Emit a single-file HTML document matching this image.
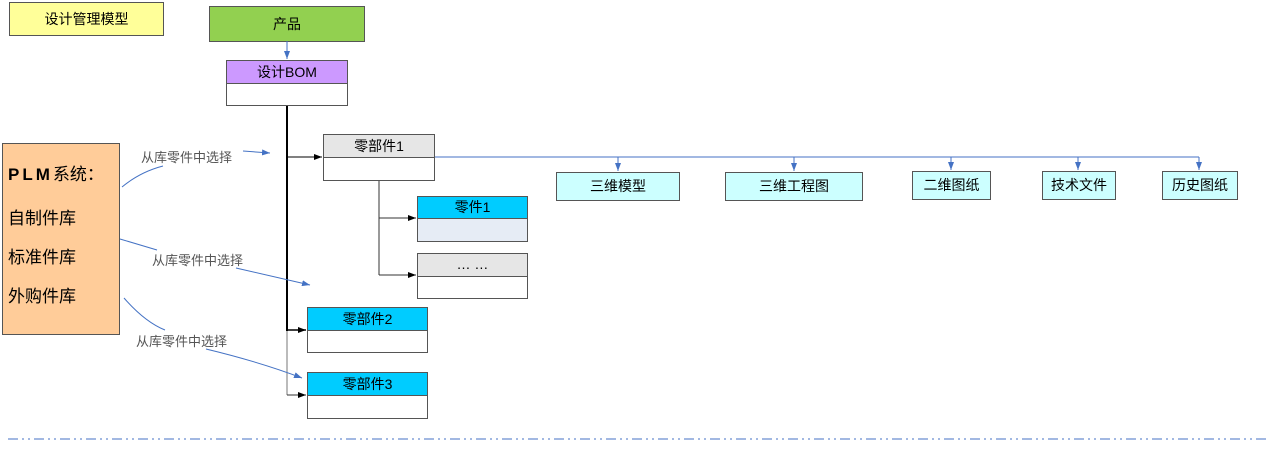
<!DOCTYPE html>
<html><head><meta charset="utf-8"><style>
body{margin:0;width:1269px;height:452px;background:#fff;position:relative;overflow:hidden;font-family:"Liberation Sans","Noto Sans CJK SC",sans-serif;}
.b{position:absolute;box-sizing:border-box;border:1px solid #555;text-align:center;font-size:14px;color:#000;}
.t{position:absolute;font-size:13px;color:#555;white-space:nowrap;}
</style></head><body>
<div class="b" style="left:9px;top:2px;width:155px;height:34px;background:#ffff99;line-height:32px;">设计管理模型</div>
<div class="b" style="left:209px;top:6px;width:156px;height:36px;background:#92d050;line-height:34px;">产品</div>
<div class="b" style="left:226px;top:60px;width:122px;height:24px;background:#cc99ff;line-height:22px;">设计BOM</div>
<div class="b" style="left:226px;top:83px;width:122px;height:23px;background:#fff;"></div>
<div class="b" style="left:323px;top:134px;width:112px;height:24px;background:#e6e6e6;line-height:22px;">零部件1</div>
<div class="b" style="left:323px;top:157px;width:112px;height:24px;background:#fff;"></div>
<div class="b" style="left:417px;top:196px;width:111px;height:23px;background:#00ccff;line-height:21px;">零件1</div>
<div class="b" style="left:417px;top:218px;width:111px;height:24px;background:#e6ecf5;"></div>
<div class="b" style="left:417px;top:253px;width:111px;height:24px;background:#e6e6e6;line-height:20px;">… …</div>
<div class="b" style="left:417px;top:276px;width:111px;height:23px;background:#fff;"></div>
<div class="b" style="left:307px;top:307px;width:121px;height:24px;background:#00ccff;line-height:22px;">零部件2</div>
<div class="b" style="left:307px;top:330px;width:121px;height:23px;background:#fff;"></div>
<div class="b" style="left:307px;top:372px;width:121px;height:24px;background:#00ccff;line-height:22px;">零部件3</div>
<div class="b" style="left:307px;top:395px;width:121px;height:24px;background:#fff;"></div>
<div class="b" style="left:556px;top:172px;width:124px;height:29px;background:#ccffff;line-height:27px;">三维模型</div>
<div class="b" style="left:725px;top:172px;width:138px;height:29px;background:#ccffff;line-height:27px;">三维工程图</div>
<div class="b" style="left:912px;top:171px;width:79px;height:29px;background:#ccffff;line-height:27px;">二维图纸</div>
<div class="b" style="left:1042px;top:171px;width:74px;height:29px;background:#ccffff;line-height:27px;">技术文件</div>
<div class="b" style="left:1162px;top:171px;width:76px;height:29px;background:#ccffff;line-height:27px;">历史图纸</div>
<div class="b" style="left:2px;top:143px;width:118px;height:192px;background:#ffcc99;text-align:left;font-size:17px;">
<div style="position:absolute;left:5px;top:16px;"><b style="letter-spacing:3px;font-size:17px;">PLM</b>系统：</div>
<div style="position:absolute;left:5px;top:60px;">自制件库</div>
<div style="position:absolute;left:5px;top:99px;">标准件库</div>
<div style="position:absolute;left:5px;top:138px;">外购件库</div>
</div>
<div class="t" style="left:141px;top:147px;">从库零件中选择</div>
<div class="t" style="left:152px;top:250px;">从库零件中选择</div>
<div class="t" style="left:136px;top:331px;">从库零件中选择</div>
<svg width="1269" height="452" style="position:absolute;left:0;top:0;" >
<defs>
<marker id="bk" markerUnits="userSpaceOnUse" markerWidth="8" markerHeight="6" refX="8" refY="3" orient="auto"><path d="M0,0L8,3L0,6z" fill="#000"/></marker>
<marker id="bl" markerUnits="userSpaceOnUse" markerWidth="8" markerHeight="6" refX="8" refY="3" orient="auto"><path d="M0,0L8,3L0,6z" fill="#4472c4"/></marker>
</defs>
<g fill="none">
<line x1="287" y1="41" x2="287" y2="59" stroke="#4472c4" marker-end="url(#bl)"/>
<line x1="287" y1="106" x2="287" y2="331" stroke="#000" stroke-width="2"/>
<line x1="287" y1="331" x2="287" y2="395" stroke="#777"/>
<line x1="287" y1="157" x2="322" y2="157" stroke="#000" marker-end="url(#bk)"/>
<line x1="287" y1="330" x2="306" y2="330" stroke="#000" stroke-width="1.5" marker-end="url(#bk)"/>
<line x1="287" y1="395" x2="306" y2="395" stroke="#333" marker-end="url(#bk)"/>
<line x1="379" y1="181" x2="379" y2="275" stroke="#333"/>
<line x1="379" y1="218" x2="416" y2="218" stroke="#333" marker-end="url(#bk)"/>
<line x1="379" y1="275" x2="416" y2="275" stroke="#333" marker-end="url(#bk)"/>
<polyline points="435,157 1199,157" stroke="#4472c4"/>
<line x1="618" y1="157" x2="618" y2="171" stroke="#4472c4" marker-end="url(#bl)"/>
<line x1="794" y1="157" x2="794" y2="171" stroke="#4472c4" marker-end="url(#bl)"/>
<line x1="951" y1="157" x2="951" y2="170" stroke="#4472c4" marker-end="url(#bl)"/>
<line x1="1078" y1="157" x2="1078" y2="170" stroke="#4472c4" marker-end="url(#bl)"/>
<line x1="1199" y1="157" x2="1199" y2="170" stroke="#4472c4" marker-end="url(#bl)"/>
<path d="M122,187 Q140,172 163,166" stroke="#4472c4"/>
<path d="M243,151 L270,153" stroke="#4472c4" marker-end="url(#bl)"/>
<path d="M120,239 L157,250" stroke="#4472c4"/>
<path d="M236,268 L310,285" stroke="#4472c4" marker-end="url(#bl)"/>
<path d="M124,298 Q145,322 165,330" stroke="#4472c4"/>
<path d="M206,349 Q260,362 302,378" stroke="#4472c4" marker-end="url(#bl)"/>
<line x1="8" y1="439" x2="1269" y2="439" stroke="#4472c4" stroke-dasharray="10,4,2,4,2,4"/>
</g>
</svg>
</body></html>
